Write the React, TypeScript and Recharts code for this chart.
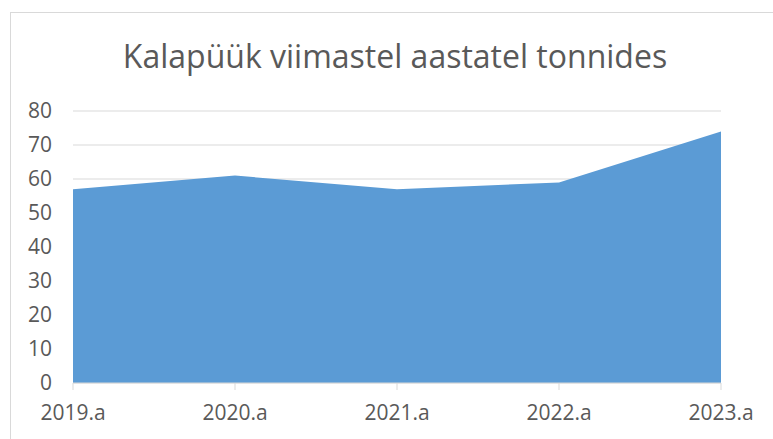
import { Area, AreaChart, CartesianGrid, XAxis, YAxis } from 'recharts'

const years = ['2019.a', '2020.a', '2021.a', '2022.a', '2023.a']
const catchTonnes = [57, 61, 57, 59, 74]
const yTicks = [0, 10, 20, 30, 40, 50, 60, 70, 80]

const data = years.map((year, i) => ({ year, value: catchTonnes[i] }))

const TEXT = '#595959'
const GRID = '#D9D9D9'
const FONT = '"Open Sans", sans-serif'

export default function App() {
  return (
    <div
      style={{
        position: 'fixed',
        left: 0,
        top: 0,
        width: 773,
        height: 439,
        overflow: 'hidden',
        background: '#fff',
        fontFamily: FONT,
      }}
    >
      <div
        style={{
          position: 'absolute',
          left: 10,
          top: 12,
          width: 820,
          height: 520,
          border: `1px solid ${GRID}`,
        }}
      />
      <div
        style={{
          position: 'absolute',
          left: 0,
          top: 34,
          width: 790,
          textAlign: 'center',
          fontSize: 32,
          color: TEXT,
          lineHeight: 'normal',
          whiteSpace: 'nowrap',
        }}
      >
        Kalapüük viimastel aastatel tonnides
      </div>
      <div style={{ position: 'absolute', left: 0, top: 0 }}>
        <AreaChart
          width={773}
          height={439}
          data={data}
          margin={{ top: 111, right: 52, bottom: 16, left: 10 }}
        >
          <CartesianGrid vertical={false} stroke={GRID} strokeWidth={1} />
          <XAxis
            dataKey="year"
            height={40}
            stroke={GRID}
            tickSize={7}
            tickMargin={15}
            tick={{ fontSize: 21, fill: TEXT, fontFamily: FONT }}
            interval={0}
          />
          <YAxis
            width={63}
            domain={[0, 80]}
            ticks={yTicks}
            axisLine={false}
            tickLine={false}
            tickMargin={15}
            tick={{ fontSize: 21, fill: TEXT, fontFamily: FONT }}
          />
          <Area
            type="linear"
            dataKey="value"
            stroke="none"
            fill="#5B9BD5"
            fillOpacity={1}
            isAnimationActive={false}
          />
        </AreaChart>
      </div>
    </div>
  )
}
